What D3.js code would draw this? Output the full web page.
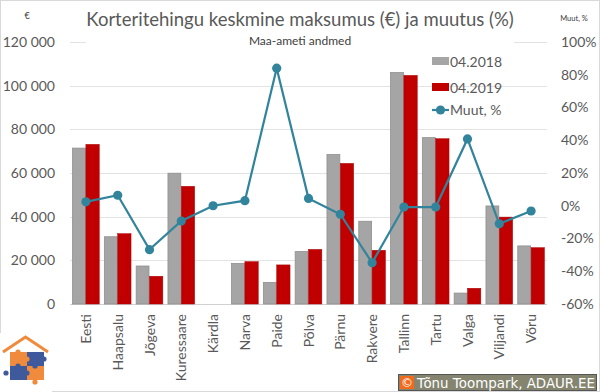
<!DOCTYPE html>
<html>
<head>
<meta charset="utf-8">
<script src="https://cdn.jsdelivr.net/npm/d3@7"></script>
<style>
  body { margin: 0; background: #fff; }
  svg { display: block; font-family: Lato, "Open Sans", sans-serif; }
</style>
</head>
<body>
<svg id="chart" width="600" height="392"></svg>
<script>
// andmed
const linnad = ["Eesti", "Haapsalu", "Jõgeva", "Kuressaare", "Kärdla", "Narva", "Paide", "Põlva",
  "Pärnu", "Rakvere", "Tallinn", "Tartu", "Valga", "Viljandi", "Võru"];
const hind2018 = [71400, 30800, 17400, 59900, 0, 18600, 9900, 24000, 68500, 37900, 106000, 76200, 5000, 44900, 26600];
const hind2019 = [73100, 32200, 12700, 53900, 0, 19400, 17900, 25000, 64400, 24600, 104700, 75700, 7200, 39800, 25800];
const muutus = [2.4, 6.4, -26.8, -9.3, 0.0, 3.1, 84.0, 4.5, -5.2, -34.8, -0.8, -0.8, 40.8, -11.0, -3.2];
const vasakTicks = [0, 20000, 40000, 60000, 80000, 100000, 120000];
const paremTicks = [-60, -40, -20, 0, 20, 40, 60, 80, 100];

const svg = d3.select("#chart");
const pLeft = 70, pRight = 547, pTop = 42, pBottom = 304;

const x = d3.scaleBand().domain(linnad).range([pLeft, pRight]).paddingInner(0.13).paddingOuter(0.065);
const xs = d3.scaleBand().domain(["a", "b"]).range([0, x.bandwidth()]);
const y = d3.scaleLinear().domain([0, 120000]).range([pBottom, pTop]);
const y2 = d3.scaleLinear().domain([-60, 100]).range([pBottom, pTop]);

const fmt = d => d3.format(",")(d).replace(/,/g, " ");

// raam
svg.append("rect").attr("x", 0.5).attr("y", 0.5).attr("width", 599).attr("height", 391)
  .attr("fill", "#fff").attr("stroke", "#d9d9d9");

// ruudustik
svg.append("g").selectAll("line").data(vasakTicks).join("line")
  .attr("x1", pLeft).attr("x2", pRight)
  .attr("y1", d => Math.round(y(d)) + 0.5).attr("y2", d => Math.round(y(d)) + 0.5)
  .attr("stroke", d => d === 0 ? "#d0d0d0" : "#e3e3e3").attr("stroke-width", 1);

// vasak telg
svg.append("g").attr("transform", `translate(55,0)`)
  .call(d3.axisLeft(y).tickValues(vasakTicks).tickFormat(fmt).tickSize(0).tickPadding(0))
  .call(g => g.select(".domain").remove())
  .selectAll("text").attr("font-size", 14).attr("fill", "#595959").attr("font-family", "Lato");

// parem telg
svg.append("g").attr("transform", `translate(561,0)`)
  .call(d3.axisRight(y2).tickValues(paremTicks).tickFormat(d => d + "%").tickSize(0).tickPadding(0))
  .call(g => g.select(".domain").remove())
  .selectAll("text").attr("font-size", 14).attr("fill", "#595959").attr("font-family", "Lato");

// pealkiri (valge taust katab ülemise joone)
svg.append("rect").attr("x", 86).attr("y", 4).attr("width", 428).attr("height", 46).attr("fill", "#fff");
svg.append("text").attr("x", 300).attr("y", 26).attr("text-anchor", "middle")
  .attr("font-size", 18.5).attr("fill", "#595959").text("Korteritehingu keskmine maksumus (€) ja muutus (%)");
svg.append("text").attr("x", 300).attr("y", 45).attr("text-anchor", "middle")
  .attr("font-size", 12).attr("fill", "#404040").text("Maa-ameti andmed");
svg.append("text").attr("x", 27).attr("y", 19).attr("text-anchor", "middle")
  .attr("font-size", 9).attr("fill", "#404040").text("€");
svg.append("text").attr("x", 574).attr("y", 21).attr("text-anchor", "middle")
  .attr("font-size", 7.5).attr("fill", "#404040").text("Muut, %");

// tulbad
const grupp = svg.append("g").selectAll("g").data(linnad).join("g")
  .attr("transform", d => `translate(${x(d)},0)`);
grupp.append("rect")
  .attr("x", 0.5).attr("width", xs.bandwidth() - 1)
  .attr("y", (d, i) => y(hind2018[i])).attr("height", (d, i) => y(0) - y(hind2018[i]))
  .attr("fill", "#a5a5a5").attr("stroke", "#8f8f8f").attr("stroke-width", 0.8)
  .attr("display", (d, i) => hind2018[i] > 0 ? null : "none");
grupp.append("rect")
  .attr("x", xs("b")).attr("width", xs.bandwidth() - 0.5)
  .attr("y", (d, i) => y(hind2019[i])).attr("height", (d, i) => y(0) - y(hind2019[i]))
  .attr("fill", "#c00000").attr("stroke", "#a80000").attr("stroke-width", 0.5)
  .attr("display", (d, i) => hind2019[i] > 0 ? null : "none");

// muutuse joon
const cx = d => x(d) + x.bandwidth() / 2;
const joon = d3.line().x((d, i) => cx(linnad[i])).y(d => y2(d));
svg.append("path").datum(muutus).attr("d", joon)
  .attr("fill", "none").attr("stroke", "#31849b").attr("stroke-width", 2.2);
svg.append("g").selectAll("circle").data(muutus).join("circle")
  .attr("cx", (d, i) => cx(linnad[i])).attr("cy", d => y2(d)).attr("r", 4.6)
  .attr("fill", "#31849b");

// x-telje sildid
svg.append("g").selectAll("text").data(linnad).join("text")
  .attr("transform", d => `translate(${cx(d) + 5},${pBottom + 10}) rotate(-90)`)
  .attr("text-anchor", "end").attr("font-size", 14).attr("fill", "#595959").text(d => d);

// legend
const leg = svg.append("g").attr("transform", "translate(432,0)");
leg.append("rect").attr("x", 0).attr("y", 57).attr("width", 17).attr("height", 8).attr("fill", "#a5a5a5");
leg.append("text").attr("x", 18).attr("y", 67).attr("font-size", 14).attr("fill", "#595959").text("04.2018");
leg.append("rect").attr("x", 0).attr("y", 83).attr("width", 17).attr("height", 8).attr("fill", "#c00000");
leg.append("text").attr("x", 18).attr("y", 93).attr("font-size", 14).attr("fill", "#595959").text("04.2019");
leg.append("line").attr("x1", 0).attr("x2", 17).attr("y1", 110).attr("y2", 110)
  .attr("stroke", "#31849b").attr("stroke-width", 2.2);
leg.append("circle").attr("cx", 8.5).attr("cy", 110).attr("r", 4.6).attr("fill", "#31849b");
leg.append("text").attr("x", 18).attr("y", 115).attr("font-size", 14).attr("fill", "#595959").text("Muut, %");

// logo
const logo = svg.append("g");
logo.append("rect").attr("x", 0).attr("y", 333).attr("width", 52).attr("height", 59).attr("fill", "#fff");
logo.append("polyline").attr("points", "3,352 25.5,337 48,352")
  .attr("fill", "none").attr("stroke", "#f08a3c").attr("stroke-width", 3);
const tk = [[10, 352, "#f08a3c"], [27, 352, "#3f5a9c"], [10, 366, "#3f5a9c"], [27, 366, "#f08a3c"]];
logo.selectAll(".tk").data(tk).join("rect")
  .attr("x", d => d[0]).attr("y", d => d[1]).attr("width", 17).attr("height", 14).attr("fill", d => d[2]);
logo.selectAll(".nupp").data([[27, 359, "#f08a3c"], [18, 366, "#3f5a9c"], [35, 366, "#3f5a9c"], [27, 373, "#3f5a9c"],
  [44, 359, "#3f5a9c"], [6, 373, "#3f5a9c"], [35, 382, "#f08a3c"], [18, 352, "#f08a3c"]]).join("circle")
  .attr("cx", d => d[0]).attr("cy", d => d[1]).attr("r", 2.6).attr("fill", d => d[2]);

// autoriõigus
const cr = svg.append("g");
cr.append("rect").attr("x", 398.5).attr("y", 374.5).attr("width", 198).attr("height", 16)
  .attr("fill", "#84846f").attr("stroke", "#555");
cr.append("rect").attr("x", 400).attr("y", 376).attr("width", 14).attr("height", 13).attr("fill", "#f26b1d");
cr.append("text").attr("x", 407).attr("y", 387).attr("text-anchor", "middle")
  .attr("font-family", "DejaVu Sans").attr("font-size", 12).attr("fill", "#fff").text("©");
cr.append("text").attr("x", 417).attr("y", 387.5)
  .attr("font-family", "DejaVu Sans").attr("font-size", 13.4).attr("fill", "#fff").text("Tõnu Toompark, ADAUR.EE");
</script>
</body>
</html>
